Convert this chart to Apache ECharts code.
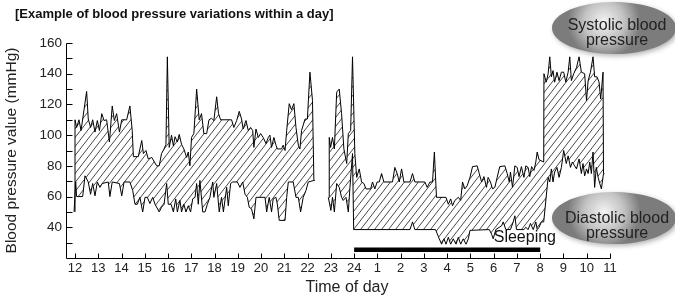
<!DOCTYPE html>
<html>
<head>
<meta charset="utf-8">
<script src="https://cdn.jsdelivr.net/npm/echarts@6/dist/echarts.min.js"></script>
<style>
html,body{margin:0;padding:0;background:#fff;}
#chart{width:675px;height:296px;}
</style>
</head>
<body>
<div id="chart"></div>
<script>
// hours run 12..35, 24+ being the next morning
var hourTicks = [12,13,14,15,16,17,18,19,20,21,22,23,24,25,26,27,28,29,30,31,32,33,34,35];
var hourLabels = ['12','13','14','15','16','17','18','19','20','21','22','23','24','1','2','3','4','5','6','7','8','9','10','11'];
var yTicks = [30,40,50,60,70,80,90,100,110,120,130,140,150,160];
var yLabels = [40,60,80,100,120,140,160];

// [hour, mmHg], '-' marks the gap before 23 o'clock
var systolic = [
	[12.00,50],[12.00,110],[12.07,105],[12.17,110],[12.26,103],[12.50,128.5],[12.57,110.5],[12.67,105],[12.76,110],[12.86,102],
	[12.96,109.5],[13.05,103],[13.15,114],[13.25,109.5],[13.36,110],[13.48,95.5],[13.60,119],[13.69,109.5],[13.79,114],[13.91,102],
	[14.01,110],[14.22,110],[14.36,119],[14.46,103],[14.51,86],[14.72,86],[14.87,96.5],[14.94,88],[15.05,90],[15.15,84.5],
	[15.30,85.5],[15.51,80],[15.62,80],[15.72,88],[15.83,91],[15.91,94],[15.97,151],[16.05,92],[16.15,100],[16.23,93],
	[16.30,99],[16.40,95.5],[16.48,100.5],[16.58,94],[16.68,91],[16.80,85.5],[16.87,89],[16.94,80],[17.01,98.5],[17.11,101],
	[17.23,130],[17.34,110],[17.44,114],[17.54,101],[17.66,101],[17.76,110],[17.87,111],[17.97,109.5],[18.09,125],[18.17,114],
	[18.26,110],[18.73,110],[18.83,105],[18.95,109.5],[19.06,115.5],[19.16,110.5],[19.23,104],[19.35,109.5],[19.45,103],[19.55,105],
	[19.64,103],[19.69,92],[19.78,104],[19.88,98.5],[19.98,101],[20.09,98.5],[20.21,94.5],[20.31,98.5],[20.38,100],[20.45,92],
	[20.55,98.5],[20.64,93.5],[20.70,91],[20.88,91],[20.95,93.5],[21.03,90],[21.10,103],[21.21,120.5],[21.31,116.5],[21.41,120.5],
	[21.50,105],[21.60,93.5],[21.67,91],[21.74,103],[21.89,110.5],[21.99,110.5],[22.10,141],[22.21,122.5],[22.27,122.5],[22.27,70.5],
	[22.6,'-'],
	[22.93,59.5],[22.93,98.5],[22.99,92],[23.07,98.5],[23.15,91],[23.25,128],[23.36,130],[23.46,114],[23.56,91],[23.68,81.5],
	[23.75,101],[23.85,103],[23.93,151],[24.03,88],[24.11,72.5],[24.22,78],[24.32,69.5],[24.42,68.5],[24.51,65],[24.71,65],
	[24.79,69.5],[24.89,65],[24.99,69.5],[25.08,69.5],[25.18,75],[25.28,69.5],[25.65,69.5],[25.75,79],[25.85,75],[25.94,69.5],
	[26.04,78],[26.14,69.5],[26.40,69.5],[26.51,75],[26.61,69.5],[27.04,69.5],[27.14,66],[27.26,69.5],[27.37,69.5],[27.45,89],
	[27.54,59.5],[27.95,59.5],[28.05,55],[28.15,58.5],[28.23,54],[28.33,57.5],[28.48,59.5],[28.58,57.5],[28.66,69.5],[28.76,65],
	[28.86,67],[28.98,72.5],[29.09,79.5],[29.29,80],[29.38,75],[29.48,69.5],[29.58,73],[29.69,66],[29.76,72.5],[29.86,69.5],
	[29.95,65],[30.05,66],[30.15,72.5],[30.26,79.5],[30.48,80],[30.58,75],[30.67,69.5],[30.72,76],[30.81,66],[30.91,80],
	[31.01,79],[31.09,73],[31.19,79.5],[31.30,72.5],[31.38,80],[31.48,79],[31.55,73],[31.63,79.5],[31.73,77],[31.81,82.5],
	[31.87,89],[31.95,84],[32.15,82.5],[32.16,140],[32.26,134.5],[32.34,140],[32.41,151],[32.48,138],[32.55,142],[32.62,134.5],
	[32.72,141],[32.81,135.5],[32.91,141],[33.01,141],[33.10,134.5],[33.20,141],[33.27,151],[33.34,135.5],[33.44,140],[33.56,144],
	[33.67,151],[33.77,141],[33.91,140],[33.99,122.5],[34.06,135.5],[34.16,141],[34.27,151],[34.34,138],[34.44,138],[34.53,134.5],
	[34.60,123.5],[34.70,141],[34.72,75]
];

var diastolic = [
	[11.96,50],[12.03,69.5],[12.07,60],[12.33,60],[12.43,73.5],[12.57,69.5],[12.67,61.5],[12.76,68.5],[12.86,60.5],[12.96,69.5],
	[13.07,66],[13.17,68.5],[13.43,69.5],[13.50,60],[13.60,69.5],[13.91,68.5],[14.01,60.5],[14.11,69.5],[14.36,69.5],[14.48,64],
	[14.58,55],[14.68,55],[14.79,59.5],[14.91,50],[15.01,59.5],[15.11,59.5],[15.22,55.5],[15.34,59.5],[15.44,55],[15.51,55],
	[15.62,50],[15.72,53],[15.83,55],[15.94,68.5],[16.01,55],[16.13,55],[16.23,50],[16.33,58.5],[16.40,50],[16.51,57.5],
	[16.58,50],[16.68,55],[16.77,50],[16.87,54],[16.97,50],[17.06,58.5],[17.16,59.5],[17.23,68.5],[17.30,55],[17.37,70.5],
	[17.49,50],[17.59,50],[17.69,55],[17.80,59.5],[17.92,69.5],[17.97,59.5],[18.09,68.5],[18.20,50],[18.30,59.5],[18.38,50],
	[18.52,66],[18.59,54],[18.69,68.5],[18.78,69.5],[18.98,69.5],[19.09,66],[19.21,69.5],[19.31,61.5],[19.41,59.5],[19.49,53],
	[19.59,52],[19.69,45.5],[19.78,59.5],[20.17,59.5],[20.24,50],[20.35,59.5],[20.45,50],[20.52,58.5],[20.64,59.5],[20.70,55],
	[20.78,44.5],[21.03,44.5],[21.10,59.5],[21.17,69.5],[21.38,69.5],[21.50,59.5],[21.60,59.5],[21.70,50],[21.81,59.5],[21.93,64],
	[22.03,69.5],[22.27,70.5],[22.31,70.5],
	[22.6,'-'],
	[22.89,59.5],[22.93,59.5],[23.00,51],[23.07,59.5],[23.15,50],[23.25,68.5],[23.36,66],[23.46,59.5],[23.53,57.5],[23.65,59.5],
	[23.75,50],[23.82,66],[23.93,88],[23.98,38.5],[26.40,38.5],[26.51,43.5],[26.61,38.5],[27.50,38.5],[27.66,32.5],[27.76,29],
	[27.86,32.5],[27.95,29],[28.05,33.5],[28.15,29],[28.26,32.5],[28.38,29],[28.48,33.5],[28.58,29],[28.69,32.5],[28.81,29],
	[28.91,32.5],[28.98,38],[29.81,38.5],[29.91,35.5],[29.98,32.5],[30.09,38.5],[30.34,41],[30.41,43.5],[30.52,38.5],[30.72,38.5],
	[30.84,43.5],[30.91,47.5],[30.98,38.5],[31.30,38.5],[31.38,40],[31.48,38.5],[31.58,42.5],[31.70,38.5],[31.81,43.5],[31.87,38.5],
	[31.95,40],[32.05,43.5],[32.15,43.5],[32.34,72.5],[32.41,69.5],[32.48,78],[32.55,69.5],[32.62,76],[32.72,79],[32.81,72.5],
	[32.91,79],[33.01,90],[33.12,81.5],[33.20,86.5],[33.30,79],[33.38,82.5],[33.48,80],[33.56,78],[33.67,84.5],[33.77,75],
	[33.84,81.5],[33.91,73.5],[33.99,78],[34.06,75],[34.13,82.5],[34.20,75],[34.27,89],[34.34,66],[34.41,79],[34.49,72.5],
	[34.56,68.5],[34.63,65],[34.72,75],[34.76,75]
];

var sleepHours = [24, 32];

var X_MIN = 11.613, X_MAX = 35, Y_MIN = 20, Y_MAX = 160;
var FONT = '"Liberation Sans", Arial, Helvetica, sans-serif';

function makeHatch(){
	var w = 7, h = 9;
	var c = document.createElement('canvas');
	c.width = w;
	c.height = h;
	var ctx = c.getContext('2d');
	ctx.strokeStyle = '#1a1a1a';
	ctx.lineWidth = 0.8;
	ctx.beginPath();
	ctx.moveTo(0, h); ctx.lineTo(w, 0);
	ctx.moveTo(-w, h); ctx.lineTo(0, 0);
	ctx.moveTo(w, h); ctx.lineTo(2 * w, 0);
	ctx.stroke();
	return c;
}

function bubbleFill(){
	return new echarts.graphic.RadialGradient(0.42, 0.38, 0.7, [
		{offset: 0, color: '#f3f3f3'},
		{offset: 0.55, color: '#c2c2c2'},
		{offset: 1, color: '#7c7c7c'}
	]);
}

function bubble(cy, ty, text){
	return [{
		type: 'ellipse',
		z: 100,
		shape: {cx: 614, cy: cy, rx: 62, ry: 26},
		style: {
			fill: bubbleFill(),
			shadowColor: 'rgba(0,0,0,0.3)',
			shadowBlur: 5,
			shadowOffsetX: 2,
			shadowOffsetY: 2
		}
	}, {
		type: 'text',
		z: 101,
		x: 617,
		y: ty,
		style: {
			text: text,
			font: '16px ' + FONT,
			fill: '#222',
			align: 'center',
			verticalAlign: 'middle',
			lineHeight: 15
		}
	}];
}

var chart = echarts.init(document.getElementById('chart'), null, {renderer: 'canvas'});

var option = {
	animation: false,
	title: {
		text: '[Example of blood pressure variations within a day]',
		left: 10,
		top: 3,
		textStyle: {
			fontFamily: FONT,
			fontWeight: 'bold',
			fontSize: 13,
			color: '#111'
		}
	},
	grid: {left: 66, right: 65, top: 43, bottom: 38, outerBoundsMode: 'none', containLabel: false},
	xAxis: {
		type: 'value',
		min: X_MIN,
		max: X_MAX,
		name: 'Time of day',
		nameLocation: 'middle',
		nameGap: 21,
		nameTextStyle: {fontFamily: FONT, fontSize: 16, color: '#222', padding: [0, 0, 0, 18]},
		splitLine: {show: false},
		axisLine: {show: false},
		axisTick: {show: false},
		axisLabel: {
			customValues: hourTicks,
			margin: 4,
			fontFamily: FONT,
			fontSize: 13,
			color: '#222',
			formatter: function(v){
				var i = hourTicks.indexOf(Math.round(v));
				return i < 0 ? '' : hourLabels[i];
			}
		}
	},
	yAxis: {
		type: 'value',
		min: Y_MIN,
		max: Y_MAX,
		interval: 10,
		name: 'Blood pressure value (mmHg)',
		nameLocation: 'middle',
		nameRotate: 90,
		nameGap: 46,
		nameTextStyle: {fontFamily: FONT, fontSize: 15.5, color: '#222'},
		splitLine: {show: false},
		axisLine: {show: false},
		axisTick: {show: false},
		axisLabel: {
			margin: 4,
			fontFamily: FONT,
			fontSize: 13.5,
			color: '#222',
			formatter: function(v){
				return yLabels.indexOf(v) < 0 ? '' : String(v);
			}
		}
	},
	series: [{
		name: 'Systolic',
		type: 'line',
		data: systolic,
		symbol: 'none',
		connectNulls: false,
		lineStyle: {color: '#000', width: 1},
		areaStyle: {origin: 'start', opacity: 1, color: {image: makeHatch(), repeat: 'repeat'}}
	}, {
		name: 'Diastolic',
		type: 'line',
		data: diastolic,
		symbol: 'none',
		connectNulls: false,
		lineStyle: {color: '#000', width: 1},
		areaStyle: {origin: 'start', opacity: 1, color: '#fff'}
	}, {
		name: 'Sleeping',
		type: 'line',
		z: 12,
		data: [[sleepHours[0], 25.4], [sleepHours[1], 25.4]],
		symbol: 'none',
		lineStyle: {color: '#000', width: 4.5, cap: 'butt'},
		markPoint: {
			symbol: 'circle',
			symbolSize: 0,
			label: {show: true, formatter: 'Sleeping', fontFamily: FONT, fontSize: 16, color: '#111'},
			data: [{coord: [31.34, 33]}]
		}
	}],
	graphic: bubble(28, 33, 'Systolic blood\npressure').concat(bubble(218, 226, 'Diastolic blood\npressure'))
};

chart.setOption(option);

// axis frame: an L-shaped polyline plus inward ticks, placed with the grid's own scale
function toPx(p){
	var q = chart.convertToPixel({gridIndex: 0}, p);
	return [Math.round(q[0]) + 0.5, Math.round(q[1]) + 0.5];
}

function stroke(points){
	return {
		type: 'polyline',
		z: 90,
		shape: {points: points},
		style: {stroke: '#000', lineWidth: 1, fill: null}
	};
}

var o = toPx([X_MIN, Y_MIN]);
var frame = [stroke([toPx([X_MIN, Y_MAX]), o, toPx([X_MAX, Y_MIN])])];
hourTicks.forEach(function(h){
	var p = toPx([h, Y_MIN]);
	frame.push(stroke([p, [p[0], p[1] - 5]]));
});
yTicks.forEach(function(v){
	var p = toPx([X_MIN, v]);
	frame.push(stroke([p, [p[0] + 6, p[1]]]));
});

chart.setOption({
	graphic: bubble(28, 33, 'Systolic blood\npressure').concat(bubble(218, 226, 'Diastolic blood\npressure'), frame)
});
</script>
</body>
</html>
